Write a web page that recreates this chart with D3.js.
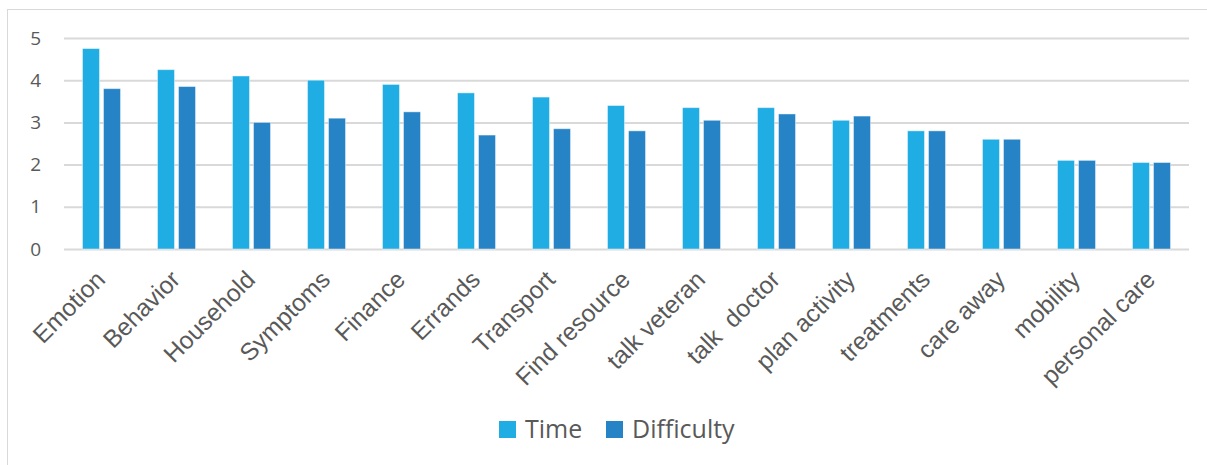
<!DOCTYPE html>
<html>
<head>
<meta charset="utf-8">
<script src="https://cdn.jsdelivr.net/npm/d3@7"></script>
<style>
  html, body { margin: 0; padding: 0; background: #ffffff; }
  svg { display: block; }
  text { white-space: pre; }
</style>
</head>
<body>
<svg id="chart" width="1207" height="465"></svg>
<script>
// Caregiving task ratings: time spent vs. difficulty
const categories = ["Emotion", "Behavior", "Household", "Symptoms", "Finance", "Errands",
  "Transport", "Find resource", "talk veteran", "talk  doctor", "plan activity",
  "treatments", "care away", "mobility", "personal care"];
const timeValues = [4.75, 4.25, 4.1, 4.0, 3.9, 3.7, 3.6, 3.4, 3.35, 3.35, 3.05, 2.8, 2.6, 2.1, 2.05];
const difficultyValues = [3.8, 3.85, 3.0, 3.1, 3.25, 2.7, 2.85, 2.8, 3.05, 3.2, 3.15, 2.8, 2.6, 2.1, 2.05];
const seriesNames = ["Time", "Difficulty"];
const seriesColors = ["#1FADE3", "#2683C6"];
const yTicks = [0, 1, 2, 3, 4, 5];

const svg = d3.select("#chart");

// chart frame
svg.append("rect")
  .attr("x", 7.5).attr("y", 9.5)
  .attr("width", 1220).attr("height", 480)
  .attr("fill", "#ffffff")
  .attr("stroke", "#D9D9D9").attr("stroke-width", 1);

const plot = { left: 64, right: 1189, top: 38, bottom: 249 };

const y = d3.scaleLinear().domain([0, 5]).range([plot.bottom, plot.top]);
const x0 = d3.scaleBand().domain(categories).range([plot.left, plot.right]).padding(0);
const x1 = d3.scaleBand().domain(seriesNames).range([0, x0.bandwidth()])
  .paddingInner(0.19).paddingOuter(0.88);

// gridlines and value labels
const yAxis = d3.axisLeft(y).tickValues(yTicks).tickSize(-(plot.right - plot.left)).tickPadding(23)
  .tickFormat(d3.format("d"));
const gy = svg.append("g").attr("transform", `translate(${plot.left},0)`).call(yAxis);
gy.select(".domain").remove();
gy.selectAll(".tick line").attr("stroke", "#D9D9D9").attr("stroke-width", 2);
gy.selectAll(".tick text")
  .attr("fill", "#595959")
  .attr("font-family", "'Open Sans', sans-serif")
  .attr("font-size", 19);

// bars
const rows = categories.map((c, i) => ({ cat: c, vals: [timeValues[i], difficultyValues[i]] }));
const groups = svg.append("g").selectAll("g").data(rows).join("g")
  .attr("transform", d => `translate(${x0(d.cat)},0)`);
groups.selectAll("rect")
  .data(d => d.vals.map((v, k) => ({ key: seriesNames[k], v, k })))
  .join("rect")
  .attr("x", d => x1(d.key))
  .attr("width", x1.bandwidth())
  .attr("y", d => y(d.v))
  .attr("height", d => y(0) - y(d.v))
  .attr("fill", d => seriesColors[d.k])
  .attr("stroke", "rgba(255,255,255,0.45)")
  .attr("stroke-width", 1);

// category labels, slanted
const xAxis = d3.axisBottom(x0).tickSize(0).tickPadding(0);
const gx = svg.append("g").attr("transform", `translate(0,${plot.bottom})`).call(xAxis);
gx.select(".domain").remove();
gx.selectAll(".tick text")
  .attr("fill", "#595959")
  .attr("font-family", "'Liberation Sans', Arial, sans-serif")
  .attr("font-size", 24.5)
  .attr("text-anchor", "end")
  .attr("dy", "0.35em")
  .attr("transform", "translate(-1,26) rotate(-45)");

// legend
const legend = svg.append("g").selectAll("g").data(seriesNames).join("g")
  .attr("transform", (d, i) => `translate(${[499, 606][i]},421)`);
legend.append("rect")
  .attr("width", 17).attr("height", 17)
  .attr("fill", (d, i) => seriesColors[i]);
legend.append("text")
  .attr("x", 26).attr("y", 17)
  .attr("fill", "#595959")
  .attr("font-family", "'Open Sans', sans-serif")
  .attr("font-size", 25)
  .text(d => d);
</script>
</body>
</html>
